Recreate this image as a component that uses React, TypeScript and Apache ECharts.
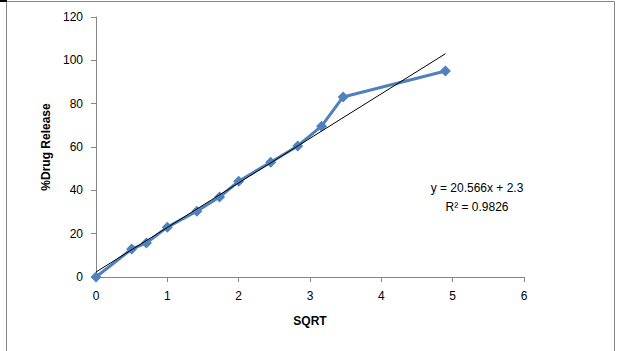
import React, { useEffect, useRef } from "react";
import * as echarts from "echarts";

const sqrtTime = [0, 0.5, 0.707, 1, 1.414, 1.732, 2, 2.449, 2.828, 3.162, 3.464, 4.899];
const drugRelease = [0, 12.9, 15.7, 23, 30.4, 36.9, 44.2, 53, 60.5, 69.6, 83.1, 95.1];
const slope = 20.566;
const intercept = 2.3;
const trendStart = 0;
const trendEnd = 4.899;
const eqText = "y = 20.566x + 2.3";
const r2Text = "R² = 0.9826";

export default function App() {
  const ref = useRef<HTMLDivElement>(null);
  useEffect(() => {
    const chart = echarts.init(ref.current!, null, { renderer: "svg" });
    const font = "'Liberation Sans', Arial, sans-serif";
    const trend = [trendStart, trendEnd].map((x) => [x, slope * x + intercept]);
    chart.setOption({
      animation: false,
      backgroundColor: "#ffffff",
      textStyle: { fontFamily: font },
      grid: { left: 96, right: 95, top: 17, bottom: 74, containLabel: false },
      xAxis: {
        type: "value",
        min: 0,
        max: 6,
        interval: 1,
        name: "SQRT",
        nameLocation: "middle",
        nameGap: 38,
        nameTextStyle: { fontWeight: "bold", fontSize: 12, color: "#000", fontFamily: font },
        axisLine: { show: true, lineStyle: { color: "#868686", width: 1 } },
        axisTick: { show: true, inside: false, length: 5, lineStyle: { color: "#868686" } },
        axisLabel: { fontSize: 12, color: "#000", margin: 13, fontFamily: font },
        splitLine: { show: false },
      },
      yAxis: {
        type: "value",
        min: 0,
        max: 120,
        interval: 20,
        name: "%Drug Release",
        nameLocation: "middle",
        nameRotate: 90,
        nameGap: 42,
        nameTextStyle: { fontWeight: "bold", fontSize: 12, color: "#000", fontFamily: font },
        axisLine: { show: true, lineStyle: { color: "#868686", width: 1 } },
        axisTick: { show: true, inside: false, length: 5, lineStyle: { color: "#868686" } },
        axisLabel: { fontSize: 12, color: "#000", margin: 13, fontFamily: font },
        splitLine: { show: false },
      },
      series: [
        {
          type: "line",
          data: sqrtTime.map((x, i) => [x, drugRelease[i]]),
          symbol: "diamond",
          symbolSize: 11,
          lineStyle: { color: "#4F81BD", width: 3 },
          itemStyle: { color: "#4F81BD" },
          z: 2,
        },
        {
          type: "line",
          data: trend,
          symbol: "none",
          lineStyle: { color: "#000", width: 1 },
          z: 3,
        },
      ],
      graphic: [
        {
          type: "rect",
          shape: { x: 6.5, y: 1.5, width: 608, height: 360 },
          style: { fill: "none", stroke: "#868686", lineWidth: 1 },
          silent: true,
        },
        {
          type: "rect",
          shape: { x: 0, y: 0, width: 7, height: 2 },
          style: { fill: "#000" },
          silent: true,
        },
        {
          type: "text",
          x: 477,
          y: 188,
          style: { text: eqText, fontSize: 12, fill: "#000", textAlign: "center", textVerticalAlign: "middle", fontFamily: font },
        },
        {
          type: "text",
          x: 477,
          y: 207,
          style: { text: r2Text, fontSize: 12, fill: "#000", textAlign: "center", textVerticalAlign: "middle", fontFamily: font },
        },
      ],
    });
    return () => chart.dispose();
  }, []);
  return (
    <div
      ref={ref}
      style={{ position: "fixed", left: 0, top: 0, width: 619, height: 351 }}
    />
  );
}
